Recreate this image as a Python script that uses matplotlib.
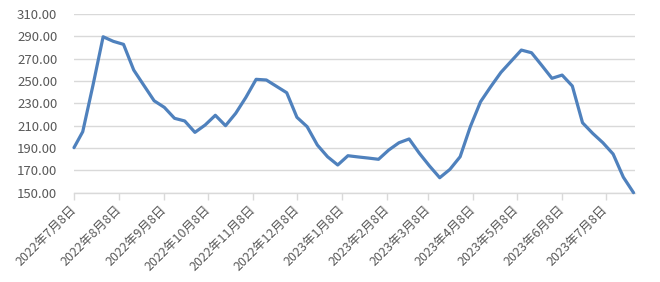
from datetime import datetime
import pandas as pd
import matplotlib
matplotlib.use("Agg")
import matplotlib.pyplot as plt
import matplotlib.dates as mdates

# first point on 2022-07-08, then weekly (Thursdays) up to 2023-07-27
first_date = "2022-07-08"
weekly_start = "2022-07-14"
n_weekly = 55

values = [
    190.3, 204.6, 246.0, 289.6, 285.5, 282.8, 259.8, 246.0, 232.3, 226.4,
    216.6, 214.2, 204.0, 210.6, 219.3, 210.0, 221.1, 235.4, 251.5, 250.9,
    245.2, 239.5, 217.5, 209.1, 192.7, 182.2, 174.8, 183.1, 182.0, 181.0,
    179.9, 188.2, 194.7, 198.1, 185.3, 173.9, 163.4, 170.9, 182.2, 209.1,
    231.4, 244.9, 257.7, 267.7, 277.7, 275.3, 264.0, 252.4, 255.3, 245.5,
    212.6, 203.1, 194.7, 184.6, 163.9, 150.0,
]

tick_labels = [
    "2022年7月8日", "2022年8月8日", "2022年9月8日", "2022年10月8日",
    "2022年11月8日", "2022年12月8日", "2023年1月8日", "2023年2月8日",
    "2023年3月8日", "2023年4月8日", "2023年5月8日", "2023年6月8日",
    "2023年7月8日",
]
y_ticks = [150, 170, 190, 210, 230, 250, 270, 290, 310]

dates = [pd.Timestamp(first_date)] + list(pd.date_range(weekly_start, periods=n_weekly, freq="7D"))
tick_dates = [datetime.strptime(s, "%Y年%m月%d日") for s in tick_labels]

plt.rcParams["font.family"] = ["Noto Sans CJK SC", "DejaVu Sans"]

fig = plt.figure(figsize=(6.6, 2.82), dpi=100)
ax = fig.add_axes([0.1121, 0.3167, 0.85, 0.6337])

ax.plot(dates, values, color="#4f81bd", lw=2.3, solid_joinstyle="round",
        solid_capstyle="round", clip_on=False, zorder=3)

ax.set_ylim(150, 310)
ax.set_yticks(y_ticks)
ax.set_yticklabels([f"{v:.2f}" for v in y_ticks])
ax.set_xlim(pd.Timestamp(first_date), dates[-1] + pd.Timedelta(days=1))
ax.set_xticks(tick_dates)
ax.set_xticklabels(tick_labels, rotation=45, ha="right", va="center",
                   rotation_mode="anchor")

ax.grid(axis="y", color="#d9d9d9", lw=1)
ax.set_axisbelow(True)
for side in ["left", "right", "top"]:
    ax.spines[side].set_visible(False)
ax.spines["bottom"].set_color("#d9d9d9")
ax.spines["bottom"].set_linewidth(1)

ax.tick_params(axis="y", length=0, pad=12, labelsize=9.5, labelcolor="#595959")
ax.tick_params(axis="x", length=5, width=1, color="#d9d9d9", pad=6,
               labelsize=9, labelcolor="#595959")

fig.savefig("out.png", dpi=100)
